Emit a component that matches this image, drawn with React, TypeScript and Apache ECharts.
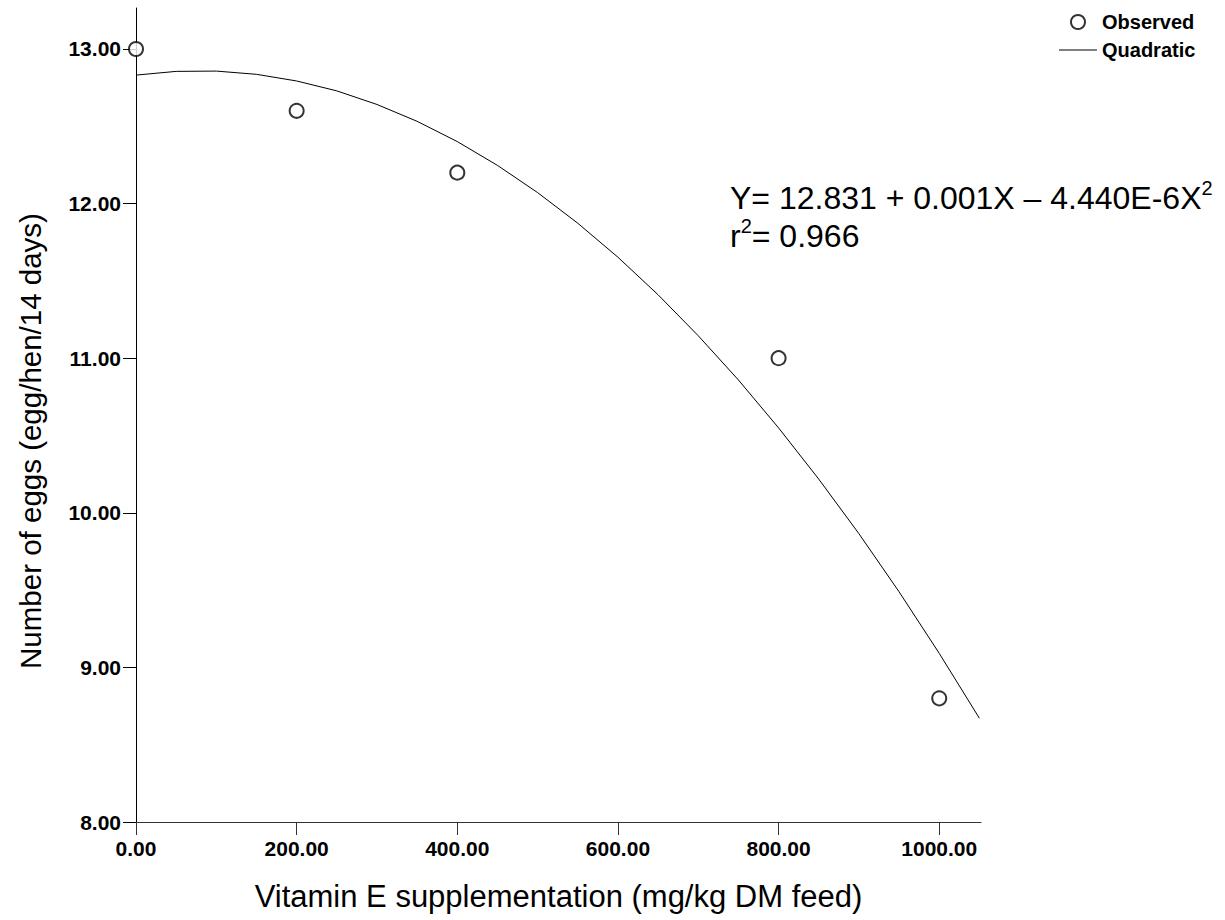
import React, { useEffect, useRef } from "react";
import * as echarts from "echarts";

// Observed data
const xObserved = [0, 200, 400, 800, 1000];
const yObserved = [13.0, 12.6, 12.2, 11.0, 8.8];

// Quadratic fit curve
const xCurve = [0, 50, 100, 150, 200, 250, 300, 350, 400, 450, 500, 550, 600, 650, 700, 750, 800, 850, 900, 950, 1000, 1050];
const yCurve = [12.831, 12.855, 12.857, 12.836, 12.793, 12.729, 12.641, 12.532, 12.401, 12.247, 12.071, 11.873, 11.653, 11.410, 11.145, 10.859, 10.549, 10.218, 9.865, 9.489, 9.091, 8.671];

// Tick values
const xTicks = [0, 200, 400, 600, 800, 1000];
const yTicks = [8, 9, 10, 11, 12, 13];

const FONT = "'Liberation Sans', Arial, Helvetica, sans-serif";

export default function App() {
  const ref = useRef<HTMLDivElement>(null);
  useEffect(() => {
    if (!ref.current) return;
    const chart = echarts.init(ref.current, null, { renderer: "svg" });
    const rich = {
      a: { fontFamily: FONT, fontSize: 32, color: "#000", lineHeight: 36, verticalAlign: "bottom" },
      s: { fontFamily: FONT, fontSize: 20, color: "#000", lineHeight: 36, verticalAlign: "top" },
    };
    const option: any = {
      animation: false,
      backgroundColor: "#ffffff",
      grid: { left: 136, top: 8, right: 244, bottom: 98, containLabel: false, outerBoundsMode: "none" },
      legend: {
        orient: "vertical",
        left: 1054,
        top: 7,
        itemWidth: 38,
        itemHeight: 14,
        itemGap: 8,
        textStyle: { fontFamily: FONT, fontSize: 20, fontWeight: "bold", color: "#000" },
        data: [
          { name: "Observed", icon: "emptyCircle" },
          { name: "Quadratic", icon: "path://M0,0 H38 V1 H0 Z" },
        ],
      },
      xAxis: {
        type: "value",
        min: 0,
        max: 1052,
        name: "Vitamin E supplementation (mg/kg DM feed)",
        nameLocation: "middle",
        nameGap: 59,
        nameTextStyle: { fontFamily: FONT, fontSize: 31, color: "#000" },
        axisLine: { show: true, onZero: false, lineStyle: { color: "#333", width: 1 } },
        axisTick: { show: true, length: 13, customValues: xTicks, lineStyle: { color: "#333" } },
        axisLabel: {
          customValues: xTicks,
          margin: 16,
          formatter: (v: number) => v.toFixed(2),
          fontFamily: FONT,
          fontSize: 21,
          fontWeight: "bold",
          color: "#000",
        },
        splitLine: { show: false },
      },
      yAxis: {
        type: "value",
        min: 8,
        max: 13.265,
        name: "Number of eggs (egg/hen/14 days)",
        nameLocation: "middle",
        nameGap: 91,
        nameTextStyle: { fontFamily: FONT, fontSize: 29.5, color: "#000", padding: [0, 52, 0, 0] },
        axisLine: { show: true, onZero: false, lineStyle: { color: "#000", width: 1 } },
        axisTick: { show: true, length: 13, customValues: yTicks, lineStyle: { color: "#000" } },
        axisLabel: {
          customValues: yTicks,
          margin: 15,
          formatter: (v: number) => v.toFixed(2),
          fontFamily: FONT,
          fontSize: 21,
          fontWeight: "bold",
          color: "#000",
        },
        splitLine: { show: false },
      },
      series: [
        {
          name: "Observed",
          type: "scatter",
          symbol: "emptyCircle",
          symbolSize: 14,
          clip: false,
          itemStyle: { color: "#000", borderColor: "#000", borderWidth: 1 },
          data: xObserved.map((x, i) => [x, yObserved[i]]),
          z: 3,
        },
        {
          name: "Quadratic",
          type: "line",
          symbol: "none",
          smooth: false,
          clip: false,
          lineStyle: { color: "#000", width: 1 },
          itemStyle: { color: "#000" },
          data: xCurve.map((x, i) => [x, yCurve[i]]),
          z: 2,
        },
      ],
      graphic: [
        {
          type: "text",
          left: 730,
          top: 178,
          style: { text: "{a|Y= 12.831 + 0.001X – 4.440E-6X}{s|2}", rich },
        },
        {
          type: "text",
          left: 730,
          top: 216,
          style: { text: "{a|r}{s|2}{a|= 0.966}", rich },
        },
      ],
    };
    chart.setOption(option);
    return () => chart.dispose();
  }, []);
  return (
    <div
      ref={ref}
      style={{ position: "absolute", left: 0, top: 0, width: 1225, height: 920, background: "#fff" }}
    />
  );
}
